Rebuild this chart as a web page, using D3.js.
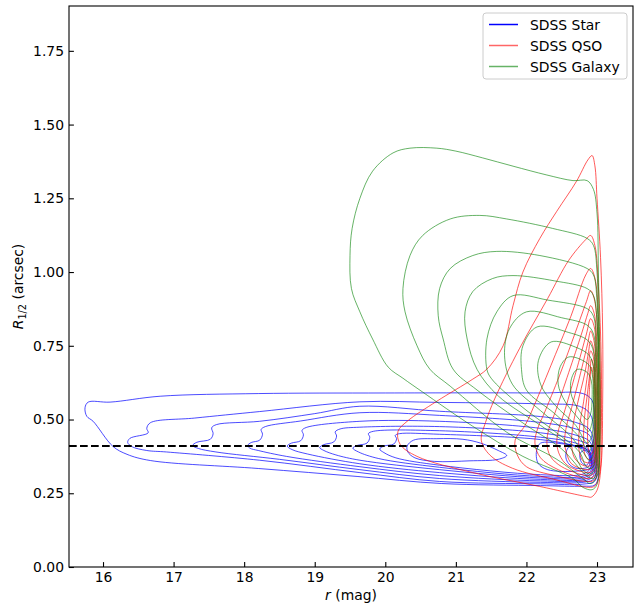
<!DOCTYPE html>
<html><head><meta charset="utf-8">
<script src="https://cdn.jsdelivr.net/npm/d3@7"></script>
<style>body{margin:0;background:#fff;} svg{display:block;font-family:"DejaVu Sans",sans-serif;}</style>
</head><body><svg id="c" width="644" height="603"></svg>
<script>
// ---------- data ----------
const xTicks = [16, 17, 18, 19, 20, 21, 22, 23];
const yTicks = [0, 0.25, 0.5, 0.75, 1.0, 1.25, 1.5, 1.75];
const seriesNames = ["SDSS Star", "SDSS QSO", "SDSS Galaxy"];
const cutValue = 0.41;

// contour lines, each a closed list of [r (mag), R_1/2 (arcsec)]
const starContours = [
  [[15.745,0.54],[15.79,0.559],[16.1,0.559],[16.81,0.579],[18.2,0.588],[20,0.59],[22.2,0.59],[22.8,0.588],[22.93,0.565],[22.97,0.50],[22.99,0.40],[23.02,0.31],[22.97,0.278],[22.8,0.274],[22.2,0.276],[20.8,0.283],[19.6,0.307],[18.2,0.334],[16.67,0.361],[16.34,0.382],[16.14,0.409],[15.86,0.494],[15.77,0.511]],
  [[16.35,0.422],[16.38,0.436],[16.64,0.455],[16.62,0.470],[16.67,0.489],[17.3,0.505],[18.22,0.527],[19.64,0.56],[20.77,0.558],[22.2,0.553],[22.75,0.545],[22.9,0.52],[22.96,0.46],[22.99,0.36],[22.97,0.292],[22.8,0.281],[22.2,0.282],[20.77,0.29],[19.64,0.32],[18.22,0.362],[16.9,0.39],[16.62,0.395],[16.41,0.408]],
  [[17.27,0.412],[17.33,0.423],[17.52,0.433],[17.56,0.452],[17.54,0.472],[17.61,0.483],[18.22,0.494],[19.0,0.52],[19.64,0.545],[20.77,0.528],[22.2,0.51],[22.7,0.49],[22.9,0.465],[22.96,0.40],[22.96,0.30],[22.83,0.288],[22.2,0.287],[20.77,0.30],[19.64,0.33],[18.5,0.365],[17.6,0.39],[17.35,0.402]],
  [[18.05,0.412],[18.1,0.422],[18.22,0.43],[18.26,0.45],[18.24,0.466],[18.3,0.476],[18.8,0.495],[19.64,0.523],[20.77,0.514],[22.2,0.49],[22.7,0.468],[22.9,0.445],[22.95,0.39],[22.95,0.31],[22.85,0.294],[22.2,0.292],[20.77,0.31],[19.64,0.34],[18.6,0.375],[18.2,0.395],[18.08,0.403]],
  [[18.61,0.41],[18.67,0.42],[18.8,0.428],[18.84,0.448],[18.82,0.463],[18.88,0.473],[19.64,0.494],[20.77,0.494],[22.2,0.47],[22.7,0.447],[22.9,0.425],[22.94,0.38],[22.94,0.32],[22.84,0.299],[22.2,0.297],[20.77,0.32],[19.64,0.35],[18.9,0.383],[18.68,0.398]],
  [[19.07,0.405],[19.13,0.415],[19.27,0.424],[19.31,0.444],[19.29,0.458],[19.36,0.468],[19.64,0.474],[20.77,0.476],[22.2,0.455],[22.7,0.432],[22.9,0.41],[22.93,0.37],[22.93,0.325],[22.83,0.304],[22.2,0.302],[20.77,0.33],[19.64,0.362],[19.3,0.38],[19.13,0.395]],
  [[19.54,0.403],[19.6,0.412],[19.74,0.42],[19.78,0.44],[19.76,0.452],[19.83,0.46],[20.77,0.462],[22.2,0.44],[22.7,0.42],[22.88,0.40],[22.92,0.365],[22.92,0.33],[22.82,0.309],[22.2,0.307],[20.77,0.338],[19.9,0.368],[19.62,0.39]],
  [[19.92,0.40],[19.98,0.41],[20.12,0.417],[20.16,0.435],[20.14,0.446],[20.2,0.452],[20.77,0.45],[22.2,0.432],[22.7,0.41],[22.87,0.395],[22.91,0.36],[22.91,0.335],[22.8,0.315],[22.2,0.313],[20.77,0.345],[20.15,0.37],[19.98,0.388]],
  [[20.31,0.41],[20.4,0.43],[20.73,0.435],[21.1,0.433],[21.35,0.42],[21.6,0.395],[21.72,0.378],[21.6,0.365],[21.2,0.36],[20.7,0.358],[20.42,0.37],[20.32,0.39]],
  [[22.15,0.40],[22.2,0.42],[22.5,0.418],[22.8,0.405],[22.9,0.39],[22.92,0.36],[22.9,0.335],[22.7,0.325],[22.3,0.33],[22.17,0.35],[22.14,0.375]],
  [[22.57,0.395],[22.62,0.41],[22.8,0.40],[22.89,0.385],[22.9,0.36],[22.88,0.34],[22.7,0.335],[22.6,0.35],[22.56,0.37]],
  [[22.76,0.385],[22.82,0.395],[22.88,0.38],[22.89,0.36],[22.85,0.345],[22.78,0.355]]
];

const qsoContours = [
  [[22.93,1.395],[22.97,1.36],[23.0,1.25],[23.05,1.05],[23.08,0.80],[23.08,0.55],[23.06,0.35],[23.0,0.26],[22.92,0.237],[22.87,0.238],[22.19,0.273],[21.24,0.32],[20.45,0.375],[20.21,0.416],[20.18,0.46],[20.31,0.494],[20.73,0.562],[21.24,0.637],[21.44,0.671],[21.67,0.75],[21.81,0.886],[21.95,1.0],[22.19,1.114],[22.43,1.206],[22.71,1.308],[22.87,1.38]],
  [[22.91,1.124],[22.97,1.09],[23.02,0.95],[23.06,0.7],[23.06,0.45],[23.04,0.32],[22.97,0.275],[22.88,0.27],[22.43,0.295],[21.8,0.335],[21.48,0.38],[21.36,0.43],[21.42,0.49],[21.55,0.57],[21.9,0.74],[22.3,0.91],[22.6,1.04],[22.84,1.11]],
  [[22.91,1.012],[22.97,0.98],[23.02,0.85],[23.05,0.6],[23.04,0.4],[23.02,0.32],[22.95,0.293],[22.85,0.29],[22.4,0.31],[22.0,0.34],[21.87,0.38],[21.84,0.43],[21.98,0.48],[22.15,0.57],[22.41,0.72],[22.63,0.85],[22.84,0.99]],
  [[22.91,0.937],[22.96,0.91],[23.01,0.80],[23.04,0.60],[23.03,0.40],[23.0,0.32],[22.93,0.303],[22.85,0.30],[22.45,0.33],[22.2,0.37],[22.12,0.42],[22.16,0.47],[22.25,0.52],[22.47,0.65],[22.70,0.80],[22.85,0.90]],
  [[22.91,0.886],[22.96,0.86],[23.0,0.75],[23.03,0.58],[23.02,0.40],[22.99,0.33],[22.93,0.313],[22.85,0.31],[22.5,0.34],[22.34,0.375],[22.29,0.42],[22.32,0.47],[22.4,0.52],[22.6,0.66],[22.78,0.79],[22.87,0.86]],
  [[22.91,0.842],[22.96,0.815],[22.99,0.72],[23.02,0.56],[23.01,0.40],[22.98,0.34],[22.92,0.323],[22.85,0.32],[22.58,0.345],[22.47,0.38],[22.43,0.42],[22.46,0.47],[22.53,0.52],[22.7,0.66],[22.85,0.79]],
  [[22.91,0.80],[22.95,0.775],[22.99,0.69],[23.01,0.54],[23.0,0.40],[22.97,0.35],[22.91,0.333],[22.84,0.33],[22.64,0.35],[22.57,0.385],[22.54,0.425],[22.57,0.48],[22.64,0.54],[22.78,0.67],[22.87,0.76]],
  [[22.91,0.767],[22.95,0.74],[22.98,0.66],[23.0,0.53],[22.99,0.40],[22.96,0.355],[22.9,0.343],[22.8,0.345],[22.68,0.37],[22.64,0.42],[22.66,0.48],[22.72,0.55],[22.83,0.66],[22.88,0.73]],
  [[22.91,0.733],[22.95,0.71],[22.97,0.64],[22.99,0.52],[22.98,0.40],[22.95,0.362],[22.89,0.353],[22.8,0.36],[22.75,0.39],[22.74,0.43],[22.76,0.49],[22.81,0.56],[22.87,0.66]],
  [[22.92,0.705],[22.95,0.68],[22.97,0.60],[22.98,0.50],[22.97,0.40],[22.94,0.37],[22.88,0.365],[22.83,0.38],[22.81,0.43],[22.82,0.50],[22.86,0.58],[22.9,0.66]],
  [[22.92,0.678],[22.95,0.64],[22.96,0.55],[22.96,0.45],[22.94,0.39],[22.9,0.38],[22.87,0.42],[22.87,0.50],[22.89,0.59]]
];

const galaxyContours = [
  [[20.35,1.42],[20.73,1.42],[21.0,1.41],[21.38,1.387],[21.81,1.359],[22.29,1.329],[22.66,1.31],[22.86,1.31],[22.95,1.28],[23.0,1.2],[23.02,1.0],[23.04,0.7],[23.04,0.4],[23.0,0.28],[22.93,0.262],[22.8,0.27],[22.66,0.30],[21.95,0.375],[21.24,0.477],[20.53,0.593],[20.25,0.64],[20.04,0.678],[19.82,0.773],[19.64,0.865],[19.52,0.944],[19.5,1.056],[19.53,1.148],[19.64,1.25],[19.82,1.342],[20.11,1.404]],
  [[20.92,1.18],[21.34,1.192],[21.72,1.18],[22.37,1.148],[22.86,1.114],[22.95,1.09],[23.0,1.0],[23.02,0.8],[23.03,0.5],[23.02,0.33],[22.96,0.29],[22.9,0.283],[22.8,0.30],[22.43,0.365],[21.72,0.457],[20.92,0.613],[20.63,0.671],[20.45,0.75],[20.28,0.865],[20.25,0.944],[20.35,1.056],[20.53,1.124]],
  [[21.24,1.056],[21.58,1.07],[22.19,1.056],[22.86,1.012],[22.95,0.99],[23.0,0.9],[23.02,0.7],[23.02,0.45],[23.0,0.33],[22.95,0.30],[22.85,0.31],[22.5,0.40],[22.0,0.48],[21.3,0.60],[20.96,0.671],[20.82,0.773],[20.75,0.852],[20.77,0.944],[20.92,1.012]],
  [[21.52,0.978],[21.81,0.988],[22.4,0.97],[22.86,0.944],[22.95,0.92],[23.0,0.83],[23.01,0.6],[23.0,0.4],[22.97,0.33],[22.9,0.315],[22.8,0.33],[22.6,0.41],[22.2,0.48],[21.6,0.58],[21.3,0.67],[21.16,0.773],[21.13,0.865],[21.24,0.934]],
  [[21.81,0.92],[22.3,0.905],[22.86,0.876],[22.95,0.85],[22.99,0.75],[23.0,0.55],[22.98,0.38],[22.93,0.335],[22.85,0.34],[22.75,0.39],[22.4,0.46],[21.9,0.55],[21.5,0.64],[21.44,0.67],[21.44,0.773],[21.58,0.865]],
  [[22.0,0.865],[22.5,0.845],[22.86,0.82],[22.95,0.79],[22.98,0.68],[22.98,0.5],[22.95,0.39],[22.9,0.36],[22.8,0.39],[22.6,0.45],[22.2,0.53],[21.8,0.62],[21.69,0.716],[21.76,0.808]],
  [[22.15,0.814],[22.6,0.795],[22.86,0.77],[22.94,0.74],[22.97,0.64],[22.97,0.5],[22.94,0.42],[22.88,0.39],[22.75,0.44],[22.4,0.52],[22.0,0.60],[21.93,0.67],[21.95,0.75]],
  [[22.35,0.763],[22.7,0.745],[22.88,0.72],[22.94,0.69],[22.96,0.60],[22.95,0.50],[22.92,0.44],[22.86,0.42],[22.7,0.48],[22.4,0.55],[22.2,0.62],[22.17,0.70]],
  [[22.6,0.712],[22.8,0.70],[22.9,0.68],[22.94,0.64],[22.95,0.56],[22.93,0.49],[22.88,0.46],[22.75,0.50],[22.55,0.56],[22.45,0.62],[22.48,0.68]],
  [[22.72,0.67],[22.86,0.66],[22.92,0.63],[22.93,0.57],[22.91,0.52],[22.86,0.50],[22.72,0.54],[22.63,0.59],[22.64,0.64]]
];

// ---------- layout ----------
const W = 644, H = 603;
const m = {left: 69, top: 6, right: 11, bottom: 36};
const pw = W - m.left - m.right, ph = H - m.top - m.bottom;
const FS = 13.9;

const svg = d3.select("#c");
const g = svg.append("g").attr("transform", `translate(${m.left},${m.top})`);

const x = d3.scaleLinear().domain([15.518, 23.51]).range([0, pw]);
const y = d3.scaleLinear().domain([0, 1.902]).range([ph, 0]);

svg.append("defs").append("clipPath").attr("id", "clip")
  .append("rect").attr("width", pw).attr("height", ph);

const plot = g.append("g").attr("clip-path", "url(#clip)");
const line = d3.line().x(d => x(d[0])).y(d => y(d[1]))
  .curve(d3.curveCatmullRomClosed.alpha(0.5));

const families = [
  {data: starContours, color: "#0000ff", op: 0.7},
  {data: qsoContours, color: "#ff0000", op: 0.65},
  {data: galaxyContours, color: "#008000", op: 0.6}
];
families.forEach(f => {
  plot.append("g").selectAll("path").data(f.data).join("path")
    .attr("d", line).attr("fill", "none")
    .attr("stroke", f.color).attr("stroke-opacity", f.op).attr("stroke-width", 1);
});

// dashed cut line
plot.append("line")
  .attr("x1", 0).attr("x2", pw).attr("y1", y(cutValue)).attr("y2", y(cutValue))
  .attr("stroke", "#000").attr("stroke-width", 2).attr("stroke-dasharray", "7.7,3.3");

// axes
const xAxis = d3.axisBottom(x).tickValues(xTicks).tickFormat(d3.format("d"))
  .tickSizeInner(-4.9).tickSizeOuter(0).tickPadding(5);
const yAxis = d3.axisLeft(y).tickValues(yTicks).tickFormat(d3.format(".2f"))
  .tickSizeInner(-4.9).tickSizeOuter(0).tickPadding(5);

const gx = g.append("g").attr("transform", `translate(0,${ph})`).call(xAxis);
const gy = g.append("g").call(yAxis);
[gx, gy].forEach(a => {
  a.select(".domain").remove();
  a.selectAll("text").attr("font-size", FS).attr("font-family", "DejaVu Sans").attr("fill", "#000");
  a.selectAll("line").attr("stroke", "#000").attr("stroke-width", 1.1);
});

// frame
g.append("rect").attr("width", pw).attr("height", ph)
  .attr("fill", "none").attr("stroke", "#000").attr("stroke-width", 1.1);

// axis labels
const xl = svg.append("text").attr("x", m.left + pw / 2).attr("y", 600)
  .attr("text-anchor", "middle").attr("font-size", FS);
xl.append("tspan").attr("font-style", "italic").text("r");
xl.append("tspan").text(" (mag)");

const yl = svg.append("text")
  .attr("transform", `translate(23,${m.top + ph / 2}) rotate(-90)`)
  .attr("text-anchor", "middle").attr("font-size", FS);
yl.append("tspan").attr("font-style", "italic").text("R");
yl.append("tspan").attr("font-size", FS * 0.7).attr("dy", 3).text("1/2");
yl.append("tspan").attr("dy", -3).text(" (arcsec)");

// legend
const lg = svg.append("g").attr("transform", "translate(483,13)");
lg.append("rect").attr("width", 144).attr("height", 66).attr("rx", 3)
  .attr("fill", "#fff").attr("fill-opacity", 0.8).attr("stroke", "#cccccc");
const legendColors = ["#0000ff", "#ff0000", "#008000"];
const legendOps = [1, 0.6, 0.6];
seriesNames.forEach((n, i) => {
  const yy = 11.5 + i * 21;
  lg.append("line").attr("x1", 6).attr("x2", 35).attr("y1", yy).attr("y2", yy)
    .attr("stroke", legendColors[i]).attr("stroke-opacity", legendOps[i]).attr("stroke-width", 1.5);
  lg.append("text").attr("x", 47).attr("y", yy + 5).attr("font-size", FS).text(n);
});
</script></body></html>
